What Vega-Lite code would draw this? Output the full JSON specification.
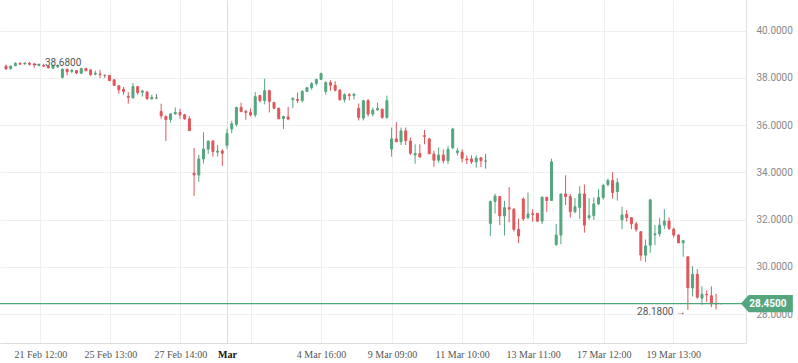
{
  "$schema": "https://vega.github.io/schema/vega-lite/v6.json",
  "width": 746,
  "height": 343,
  "autosize": {"type": "none"},
  "padding": {"left": 0, "top": 0, "right": 52, "bottom": 20},
  "background": "#ffffff",
  "config": {"view": {"stroke": null}},
  "datasets": {
    "candles": [
    {"i":0,"o":38.50,"h":38.57,"l":38.35,"c":38.38},
    {"i":1,"o":38.40,"h":38.52,"l":38.35,"c":38.50},
    {"i":2,"o":38.52,"h":38.66,"l":38.50,"c":38.62},
    {"i":3,"o":38.62,"h":38.66,"l":38.57,"c":38.58},
    {"i":4,"o":38.60,"h":38.67,"l":38.55,"c":38.63},
    {"i":5,"o":38.62,"h":38.68,"l":38.52,"c":38.58},
    {"i":6,"o":38.59,"h":38.64,"l":38.43,"c":38.55},
    {"i":7,"o":38.53,"h":38.62,"l":38.49,"c":38.56},
    {"i":8,"o":38.53,"h":38.60,"l":38.46,"c":38.50},
    {"i":9,"o":38.50,"h":38.55,"l":38.40,"c":38.43},
    {"i":10,"o":38.41,"h":38.56,"l":38.40,"c":38.53},
    {"i":11,"o":38.47,"h":38.57,"l":38.42,"c":38.53},
    {"i":12,"o":38.03,"h":38.40,"l":37.97,"c":38.37},
    {"i":13,"o":38.37,"h":38.40,"l":38.11,"c":38.26},
    {"i":14,"o":38.28,"h":38.38,"l":38.21,"c":38.33},
    {"i":15,"o":38.31,"h":38.33,"l":38.17,"c":38.21},
    {"i":16,"o":38.20,"h":38.43,"l":38.17,"c":38.40},
    {"i":17,"o":38.40,"h":38.43,"l":38.28,"c":38.31},
    {"i":18,"o":38.34,"h":38.37,"l":38.09,"c":38.14},
    {"i":19,"o":38.16,"h":38.31,"l":38.11,"c":38.20},
    {"i":20,"o":38.17,"h":38.34,"l":38.00,"c":38.14},
    {"i":21,"o":38.11,"h":38.14,"l":38.00,"c":38.11},
    {"i":22,"o":38.11,"h":38.13,"l":37.86,"c":37.89},
    {"i":23,"o":37.92,"h":37.95,"l":37.66,"c":37.69},
    {"i":24,"o":37.67,"h":37.68,"l":37.33,"c":37.50},
    {"i":25,"o":37.52,"h":37.62,"l":37.29,"c":37.43},
    {"i":26,"o":37.22,"h":37.40,"l":36.91,"c":37.18},
    {"i":27,"o":37.16,"h":37.79,"l":37.12,"c":37.63},
    {"i":28,"o":37.63,"h":37.65,"l":37.29,"c":37.38},
    {"i":29,"o":37.40,"h":37.50,"l":37.21,"c":37.45},
    {"i":30,"o":37.40,"h":37.46,"l":37.08,"c":37.12},
    {"i":31,"o":37.12,"h":37.29,"l":37.08,"c":37.18},
    {"i":32,"o":37.15,"h":37.32,"l":37.12,"c":37.15},
    {"i":33,"o":36.58,"h":36.91,"l":36.27,"c":36.40},
    {"i":34,"o":36.37,"h":36.41,"l":35.33,"c":36.24},
    {"i":35,"o":36.24,"h":36.50,"l":36.11,"c":36.48},
    {"i":36,"o":36.48,"h":36.75,"l":36.44,"c":36.54},
    {"i":37,"o":36.54,"h":36.70,"l":36.27,"c":36.44},
    {"i":38,"o":36.44,"h":36.48,"l":36.23,"c":36.27},
    {"i":39,"o":36.27,"h":36.38,"l":35.77,"c":35.77},
    {"i":40,"o":33.97,"h":35.04,"l":33.01,"c":33.90},
    {"i":41,"o":33.89,"h":34.74,"l":33.60,"c":34.57},
    {"i":42,"o":34.57,"h":35.70,"l":34.38,"c":34.99},
    {"i":43,"o":34.99,"h":35.33,"l":34.79,"c":35.33},
    {"i":44,"o":35.33,"h":35.36,"l":34.67,"c":34.88},
    {"i":45,"o":34.86,"h":35.16,"l":34.67,"c":34.90},
    {"i":46,"o":34.91,"h":34.98,"l":34.27,"c":34.81},
    {"i":47,"o":35.15,"h":35.85,"l":35.00,"c":35.65},
    {"i":48,"o":35.84,"h":36.18,"l":35.66,"c":36.06},
    {"i":49,"o":36.04,"h":36.79,"l":35.94,"c":36.75},
    {"i":50,"o":36.75,"h":36.95,"l":36.54,"c":36.58},
    {"i":51,"o":36.58,"h":36.65,"l":36.23,"c":36.54},
    {"i":52,"o":36.54,"h":36.71,"l":36.37,"c":36.43},
    {"i":53,"o":36.44,"h":37.40,"l":36.34,"c":37.21},
    {"i":54,"o":37.26,"h":37.26,"l":36.96,"c":37.04},
    {"i":55,"o":37.04,"h":37.97,"l":36.88,"c":37.46},
    {"i":56,"o":37.46,"h":37.50,"l":36.54,"c":37.01},
    {"i":57,"o":36.96,"h":36.99,"l":36.68,"c":36.72},
    {"i":58,"o":36.72,"h":36.72,"l":36.27,"c":36.27},
    {"i":59,"o":36.28,"h":36.40,"l":35.84,"c":36.37},
    {"i":60,"o":36.35,"h":36.78,"l":36.21,"c":36.26},
    {"i":61,"o":37.08,"h":37.19,"l":36.72,"c":37.13},
    {"i":62,"o":37.09,"h":37.38,"l":36.94,"c":37.05},
    {"i":63,"o":37.04,"h":37.48,"l":36.96,"c":37.43},
    {"i":64,"o":37.43,"h":37.62,"l":37.40,"c":37.59},
    {"i":65,"o":37.59,"h":37.82,"l":37.50,"c":37.76},
    {"i":66,"o":37.77,"h":37.97,"l":37.67,"c":37.93},
    {"i":67,"o":37.94,"h":38.23,"l":37.91,"c":38.18},
    {"i":68,"o":37.43,"h":37.86,"l":37.29,"c":37.80},
    {"i":69,"o":37.80,"h":37.90,"l":37.46,"c":37.69},
    {"i":70,"o":37.69,"h":37.86,"l":37.43,"c":37.48},
    {"i":71,"o":37.48,"h":37.53,"l":37.04,"c":37.08},
    {"i":72,"o":37.09,"h":37.35,"l":36.96,"c":37.29},
    {"i":73,"o":37.29,"h":37.36,"l":37.05,"c":37.25},
    {"i":74,"o":37.26,"h":37.33,"l":37.09,"c":37.32},
    {"i":75,"o":36.71,"h":36.92,"l":36.20,"c":36.33},
    {"i":76,"o":36.30,"h":37.04,"l":36.20,"c":37.04},
    {"i":77,"o":37.04,"h":37.11,"l":36.37,"c":36.47},
    {"i":78,"o":36.47,"h":36.75,"l":36.37,"c":36.64},
    {"i":79,"o":36.65,"h":36.96,"l":36.61,"c":36.71},
    {"i":80,"o":36.68,"h":36.68,"l":36.27,"c":36.33},
    {"i":81,"o":36.33,"h":37.25,"l":36.27,"c":37.04},
    {"i":82,"o":34.99,"h":35.90,"l":34.67,"c":35.42},
    {"i":83,"o":35.42,"h":36.13,"l":35.28,"c":35.30},
    {"i":84,"o":35.30,"h":35.90,"l":35.16,"c":35.76},
    {"i":85,"o":35.76,"h":35.90,"l":35.16,"c":35.35},
    {"i":86,"o":35.33,"h":35.48,"l":34.74,"c":34.81},
    {"i":87,"o":34.74,"h":35.19,"l":34.37,"c":34.80},
    {"i":88,"o":34.80,"h":35.19,"l":34.65,"c":34.65},
    {"i":89,"o":35.56,"h":35.80,"l":35.19,"c":35.52},
    {"i":90,"o":35.42,"h":35.45,"l":34.77,"c":34.79},
    {"i":91,"o":34.78,"h":34.92,"l":34.24,"c":34.52},
    {"i":92,"o":34.52,"h":35.06,"l":34.41,"c":34.74},
    {"i":93,"o":34.74,"h":34.98,"l":34.38,"c":34.50},
    {"i":94,"o":34.50,"h":35.12,"l":34.35,"c":34.98},
    {"i":95,"o":35.05,"h":35.89,"l":34.98,"c":35.84},
    {"i":96,"o":34.84,"h":35.04,"l":34.71,"c":34.91},
    {"i":97,"o":34.85,"h":34.98,"l":34.43,"c":34.60},
    {"i":98,"o":34.57,"h":34.72,"l":34.36,"c":34.53},
    {"i":99,"o":34.57,"h":34.72,"l":34.36,"c":34.45},
    {"i":100,"o":34.45,"h":34.72,"l":34.20,"c":34.61},
    {"i":101,"o":34.62,"h":34.65,"l":34.23,"c":34.50},
    {"i":102,"o":34.48,"h":34.79,"l":34.16,"c":34.48},
    {"i":103,"o":31.84,"h":32.81,"l":31.30,"c":32.77},
    {"i":104,"o":32.77,"h":33.10,"l":32.26,"c":33.00},
    {"i":105,"o":32.98,"h":33.00,"l":31.77,"c":32.16},
    {"i":106,"o":32.16,"h":32.80,"l":31.33,"c":32.51},
    {"i":107,"o":32.51,"h":33.38,"l":31.89,"c":32.45},
    {"i":108,"o":32.44,"h":32.50,"l":31.50,"c":31.59},
    {"i":109,"o":31.59,"h":32.05,"l":31.01,"c":31.31},
    {"i":110,"o":32.87,"h":32.95,"l":31.95,"c":32.04},
    {"i":111,"o":32.09,"h":33.15,"l":32.02,"c":32.24},
    {"i":112,"o":32.25,"h":32.44,"l":31.91,"c":32.22},
    {"i":113,"o":32.27,"h":32.28,"l":31.91,"c":31.94},
    {"i":114,"o":31.94,"h":32.96,"l":31.82,"c":32.96},
    {"i":115,"o":32.95,"h":32.96,"l":32.33,"c":32.81},
    {"i":116,"o":32.81,"h":34.58,"l":32.81,"c":34.45},
    {"i":117,"o":30.95,"h":31.82,"l":30.89,"c":31.35},
    {"i":118,"o":31.35,"h":33.09,"l":30.96,"c":33.09},
    {"i":119,"o":33.09,"h":33.88,"l":32.62,"c":32.98},
    {"i":120,"o":32.98,"h":33.09,"l":32.09,"c":32.34},
    {"i":121,"o":32.34,"h":32.91,"l":32.27,"c":32.55},
    {"i":122,"o":32.52,"h":33.42,"l":32.03,"c":33.09},
    {"i":123,"o":33.09,"h":33.49,"l":31.45,"c":31.77},
    {"i":124,"o":32.09,"h":32.91,"l":31.99,"c":32.17},
    {"i":125,"o":32.17,"h":32.94,"l":31.99,"c":32.67},
    {"i":126,"o":32.67,"h":33.30,"l":32.62,"c":32.94},
    {"i":127,"o":32.94,"h":33.52,"l":32.84,"c":33.45},
    {"i":128,"o":33.49,"h":33.74,"l":33.40,"c":33.66},
    {"i":129,"o":33.66,"h":34.01,"l":32.89,"c":33.15},
    {"i":130,"o":33.19,"h":33.76,"l":32.81,"c":33.57},
    {"i":131,"o":31.99,"h":32.55,"l":31.60,"c":32.20},
    {"i":132,"o":32.23,"h":32.41,"l":31.91,"c":32.09},
    {"i":133,"o":32.09,"h":32.09,"l":31.60,"c":31.82},
    {"i":134,"o":31.82,"h":31.91,"l":31.49,"c":31.59},
    {"i":135,"o":31.49,"h":31.49,"l":30.26,"c":30.50},
    {"i":136,"o":30.50,"h":31.16,"l":30.21,"c":30.89},
    {"i":137,"o":30.92,"h":32.88,"l":30.60,"c":32.84},
    {"i":138,"o":31.36,"h":31.77,"l":30.92,"c":31.40},
    {"i":139,"o":31.40,"h":32.09,"l":31.28,"c":31.77},
    {"i":140,"o":31.77,"h":32.44,"l":31.60,"c":31.94},
    {"i":141,"o":31.94,"h":32.09,"l":31.56,"c":31.63},
    {"i":142,"o":31.60,"h":31.66,"l":31.25,"c":31.35},
    {"i":143,"o":31.35,"h":31.38,"l":31.02,"c":31.02},
    {"i":144,"o":31.02,"h":31.13,"l":30.43,"c":31.11},
    {"i":145,"o":30.43,"h":30.45,"l":28.18,"c":29.12},
    {"i":146,"o":29.11,"h":30.03,"l":28.75,"c":29.69},
    {"i":147,"o":29.69,"h":29.91,"l":28.65,"c":28.72},
    {"i":148,"o":28.68,"h":29.18,"l":28.40,"c":28.84},
    {"i":149,"o":28.84,"h":29.01,"l":28.51,"c":28.82},
    {"i":150,"o":28.78,"h":29.18,"l":28.30,"c":28.43},
    {"i":151,"o":28.46,"h":28.87,"l":28.20,"c":28.43},
    {"i":152,"o":28.44,"h":28.46,"l":28.43,"c":28.45}
    ],
    "last": [{"p": 28.45, "t": "28.4500"}],
    "high": [{"i": 5, "v": 38.68, "t": "← 38.6800"}],
    "low": [{"i": 145, "v": 28.18, "t": "28.1800 →"}]
  },
  "layer": [
    {
      "data": {"name": "candles"},
      "mark": {"type": "rule", "strokeWidth": 1},
      "encoding": {
        "x": {
          "field": "i", "type": "quantitative",
          "scale": {"domain": [-0.21, 156.3], "nice": false, "zero": false},
          "axis": {
            "title": null,
            "values": [7.3, 22.2, 37.1, 47, 52.1, 67, 82.1, 97, 112.1, 127.1, 141.9],
            "labelExpr": "({'7':'21 Feb 12:00','22':'25 Feb 13:00','37':'27 Feb 14:00','47':'Mar','52':'','67':'4 Mar 16:00','82':'9 Mar 09:00','97':'11 Mar 10:00','112':'13 Mar 11:00','127':'17 Mar 12:00','141':'19 Mar 13:00'})[floor(datum.value)]",
            "labelOverlap": false,
            "labelFlush": false,
            "labelFont": "Liberation Serif",
            "labelFontSize": 10,
            "labelColor": {"condition": {"test": "floor(datum.value) == 47", "value": "#111111"}, "value": "#555555"},
            "labelFontWeight": {"condition": {"test": "floor(datum.value) == 47", "value": "bold"}, "value": "normal"},
            "labelPadding": 6,
            "ticks": false,
            "domain": true,
            "domainColor": "#dddddd",
            "grid": true,
            "gridColor": {"condition": {"test": "floor(datum.value) == 47", "value": "#dcdcdc"}, "value": "#efefef"}
          }
        },
        "y": {
          "field": "l", "type": "quantitative",
          "scale": {"domain": [26.78, 41.30], "nice": false, "zero": false},
          "axis": {
            "orient": "right", "title": null,
            "values": [28, 30, 32, 34, 36, 38, 40],
            "format": ".4f",
            "labelFont": "Roboto", "labelFontSize": 10, "labelColor": "#888888",
            "labelPadding": 10, "ticks": false,
            "domain": true, "domainColor": "#dddddd",
            "grid": true, "gridColor": "#efefef"
          }
        },
        "y2": {"field": "h"},
        "stroke": {
          "condition": [
            {"test": "datum.c > datum.o", "value": "#55a67f"},
            {"test": "datum.c < datum.o", "value": "#e0565a"}
          ],
          "value": "#7a7a7a"
        }
      }
    },
    {
      "data": {"name": "candles"},
      "mark": {"type": "bar", "width": 2, "strokeWidth": 1},
      "encoding": {
        "x": {"field": "i", "type": "quantitative"},
        "y": {"field": "o", "type": "quantitative"},
        "y2": {"field": "c"},
        "fill": {
          "condition": [
            {"test": "datum.c > datum.o", "value": "#55a67f"},
            {"test": "datum.c < datum.o", "value": "#e0565a"}
          ],
          "value": "#7a7a7a"
        },
        "stroke": {
          "condition": [
            {"test": "datum.c > datum.o", "value": "#55a67f"},
            {"test": "datum.c < datum.o", "value": "#e0565a"}
          ],
          "value": "#7a7a7a"
        }
      }
    },
    {
      "data": {"name": "last"},
      "mark": {"type": "rule", "stroke": "#4fa67a", "strokeWidth": 1.3, "opacity": 1, "strokeOpacity": 1},
      "encoding": {"y": {"field": "p", "type": "quantitative"}}
    },
    {
      "data": {"name": "last"},
      "mark": {"type": "point", "filled": true, "strokeWidth": 0, "opacity": 1, "size": 2704,
               "shape": "M -1 0 L -0.7 -0.33 L 1 -0.33 L 1 0.33 L -0.7 0.33 Z"},
      "encoding": {"x": {"datum": 161.8}, "y": {"field": "p", "type": "quantitative"}, "fill": {"value": "#55a67f"}}
    },
    {
      "data": {"name": "last"},
      "mark": {"type": "text", "font": "Roboto", "fontSize": 10, "fontWeight": "bold", "align": "center", "baseline": "middle", "dx": 1},
      "encoding": {"x": {"datum": 161.8}, "y": {"field": "p", "type": "quantitative"}, "text": {"field": "t"}, "color": {"value": "#ffffff"}}
    },
    {
      "data": {"name": "high"},
      "mark": {"type": "text", "font": "Roboto", "fontSize": 10, "align": "left", "baseline": "middle", "dx": 3, "dy": 1.5},
      "encoding": {"x": {"field": "i", "type": "quantitative"}, "y": {"field": "v", "type": "quantitative"}, "text": {"field": "t"}, "color": {"value": "#555555"}}
    },
    {
      "data": {"name": "low"},
      "mark": {"type": "text", "font": "Roboto", "fontSize": 10, "align": "right", "baseline": "middle", "dx": -2, "dy": 2.5},
      "encoding": {"x": {"field": "i", "type": "quantitative"}, "y": {"field": "v", "type": "quantitative"}, "text": {"field": "t"}, "color": {"value": "#555555"}}
    }
  ]
}
